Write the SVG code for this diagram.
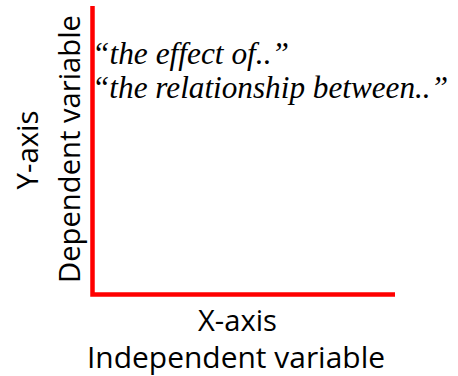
<svg xmlns="http://www.w3.org/2000/svg" width="458" height="376" viewBox="0 0 458 376">
<style>
.lbl{font-family:"Open Sans","Liberation Sans",sans-serif;font-size:29px;fill:#000;text-anchor:middle}
.q{font-family:"Liberation Serif","Times New Roman",serif;font-style:italic;font-size:31px;fill:#000}
.axis{fill:none;stroke:#ff0000;stroke-width:4.5;stroke-linejoin:miter;stroke-linecap:butt}
</style>
<rect width="458" height="376" fill="#fff"/>
<g id="axes">
<path class="axis" d="M92.5,6 V294.5 H395"/>
</g>
<g id="y-label">
<text class="lbl" transform="translate(38,150) rotate(-90)" textLength="79" lengthAdjust="spacingAndGlyphs">Y-axis</text>
<text class="lbl" transform="translate(80,149) rotate(-90)" textLength="268" lengthAdjust="spacingAndGlyphs">Dependent variable</text>
</g>
<g id="x-label">
<text class="lbl" x="237.5" y="331" textLength="79" lengthAdjust="spacingAndGlyphs">X-axis</text>
<text class="lbl" x="236" y="368" textLength="298" lengthAdjust="spacingAndGlyphs">Independent variable</text>
</g>
<g id="quotes">
<text class="q" x="92" y="64" textLength="197" lengthAdjust="spacingAndGlyphs">“the effect of..”</text>
<text class="q" x="92" y="98" textLength="356" lengthAdjust="spacingAndGlyphs">“the relationship between..”</text>
</g>
</svg>
